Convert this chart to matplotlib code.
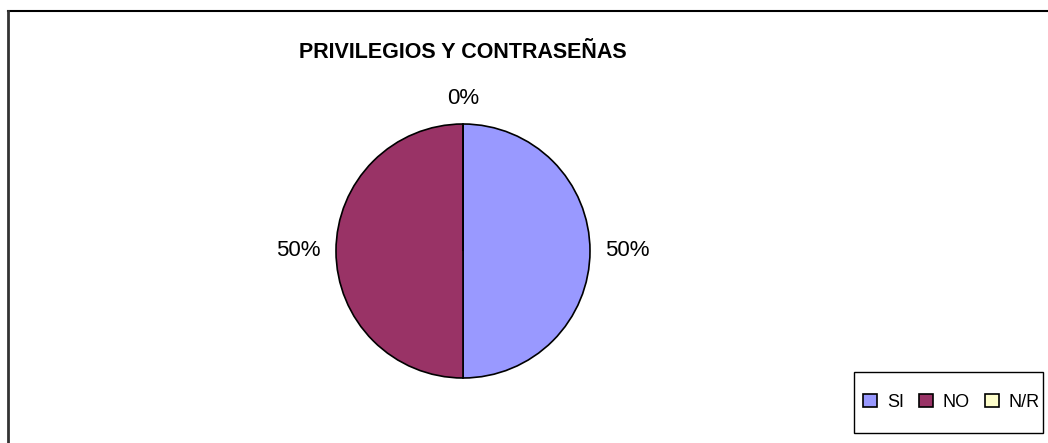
import matplotlib
matplotlib.use("Agg")
import matplotlib.pyplot as plt
from matplotlib.lines import Line2D
from matplotlib.patches import Rectangle
import numpy as np

title = "PRIVILEGIOS Y CONTRASEÑAS"
categories = ["SI", "NO", "N/R"]
values = [50, 50, 0]
colors = ["#9999FF", "#993366", "#FFFFCC"]

plt.rcParams['font.family'] = ['Liberation Sans', 'DejaVu Sans']

W, H = 1048, 443
fig = plt.figure(figsize=(W / 100, H / 100), dpi=100)

# outer frame (top and left lines)
fig.add_artist(Line2D([7.5 / W, 1], [1 - 11 / H, 1 - 11 / H], color="black", lw=1.5, transform=fig.transFigure))
fig.add_artist(Line2D([7.5 / W, 7.5 / W], [0, 1 - 11 / H], color="#333333", lw=2, transform=fig.transFigure))

cx, cy, r = 463, 251, 127
ax = fig.add_axes([(cx - r) / W, (H - cy - r) / H, 2 * r / W, 2 * r / H])
wedges, _ = ax.pie(values, colors=colors, startangle=90, counterclock=False,
                   wedgeprops=dict(edgecolor="black", linewidth=1.2))
ax.set_xlim(-1, 1)
ax.set_ylim(-1, 1)
ax.set_aspect("auto")
ax.axis("off")

total = sum(values)
dist = 1.12
for w, v in zip(wedges, values):
    ang = np.deg2rad((w.theta1 + w.theta2) / 2)
    x, y = np.cos(ang), np.sin(ang)
    if abs(x) < 0.2:
        ha, va = "center", ("bottom" if y > 0 else "top")
    else:
        ha, va = ("left" if x > 0 else "right"), "center"
    ax.text(dist * x, dist * y, f"{v / total * 100:.0f}%", ha=ha, va=va, fontsize=16)

fig.text(cx / W, 1 - 52 / H, title, ha="center", va="center", fontsize=15.5, fontweight="bold")

# legend box
lx0, ly0, lx1, ly1 = 854, 372, 1043, 433
fig.add_artist(Rectangle((lx0 / W, 1 - ly1 / H), (lx1 - lx0) / W, (ly1 - ly0) / H,
                         transform=fig.transFigure, facecolor="white", edgecolor="black", lw=1))
handles = [Rectangle((0, 0), 1, 1, facecolor=c, edgecolor="black", lw=1.2) for c in colors]
fig.legend(handles, categories, loc="center", bbox_to_anchor=((lx0 + lx1) / 2 / W + 3 / W, 1 - (ly0 + ly1) / 2 / H),
           ncol=3, frameon=False, fontsize=13, handlelength=0.75, handleheight=0.75,
           handletextpad=0.55, columnspacing=0.85, borderpad=0)

fig.savefig("out.png", dpi=100)
